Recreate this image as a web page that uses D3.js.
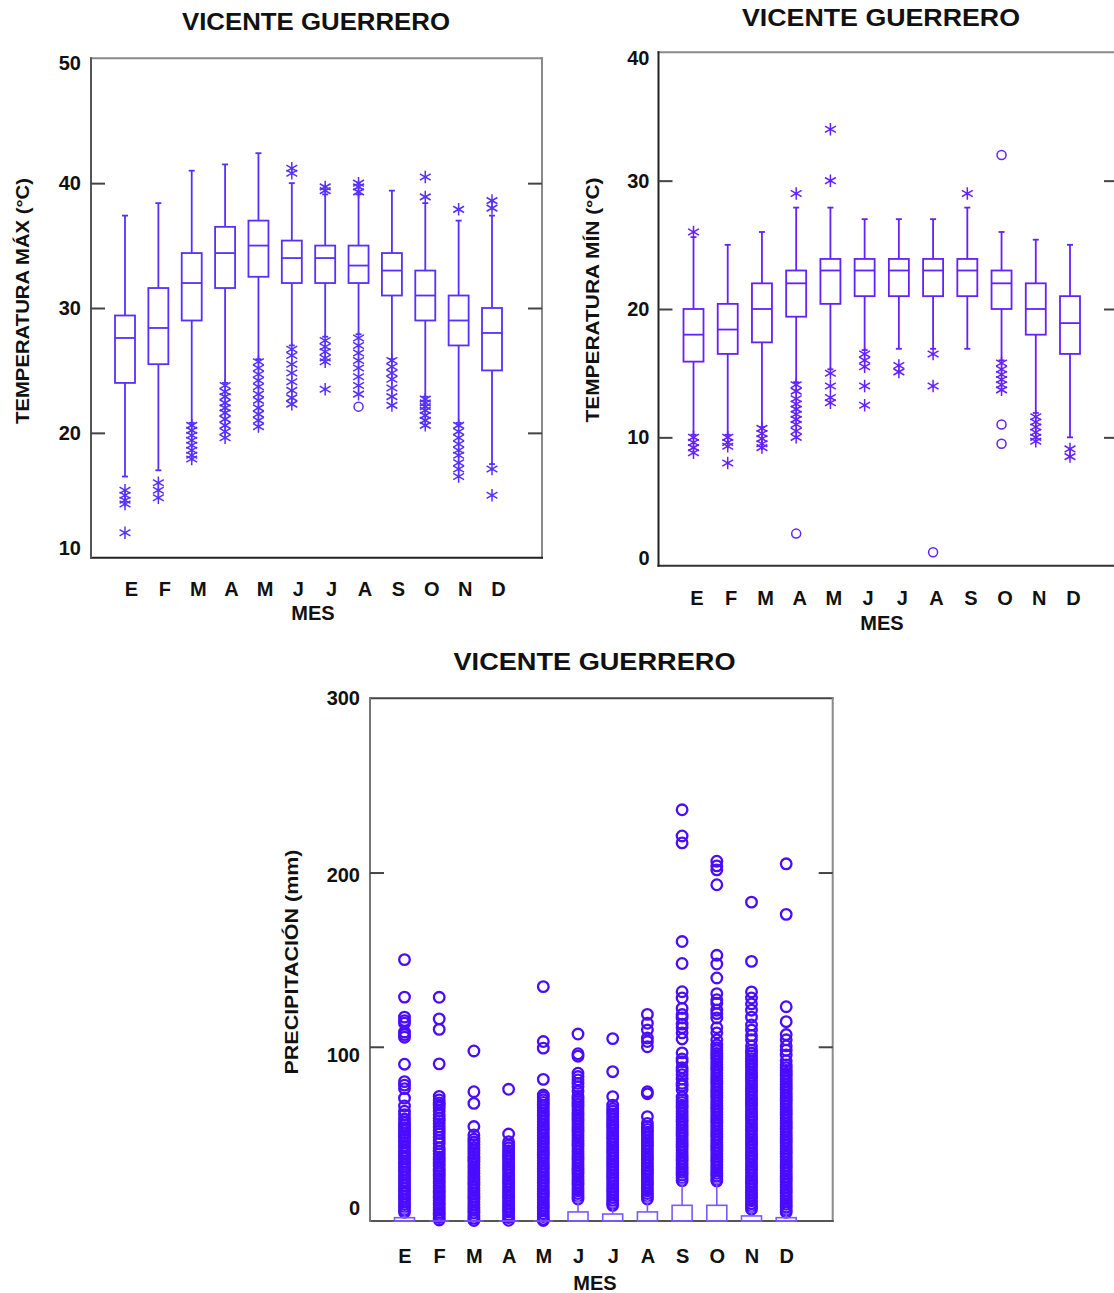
<!DOCTYPE html>
<html>
<head>
<meta charset="utf-8">
<script src="https://cdn.jsdelivr.net/npm/d3@7"></script>
<style>
  body { margin: 0; background: #fff; }
  svg { display: block; }
</style>
</head>
<body>
<svg id="chart" width="1114" height="1293"></svg>
<script>
// Three monthly box plots for the Vicente Guerrero station:
// daily max temperature, daily min temperature and daily precipitation.
// Asterisks are outside values, circles far-outside values (SYSTAT style).

const FONT = '"Liberation Sans", Arial, Helvetica, sans-serif';
const months = ['E', 'F', 'M', 'A', 'M', 'J', 'J', 'A', 'S', 'O', 'N', 'D'];

// temperatura máxima (°C)
const tmaxHigh = [37.4, 38.4, 41.0, 41.5, 42.4, 40.0, 39.1, 39.1, 39.4, 38.4, 37.0, 37.4];
const tmaxQ3 = [29.4, 31.6, 34.4, 36.5, 37.0, 35.4, 35.0, 35.0, 34.4, 33.0, 31.0, 30.0];
const tmaxMed = [27.6, 28.4, 32.0, 34.4, 35.0, 34.0, 34.0, 33.4, 33.0, 31.0, 29.0, 28.0];
const tmaxQ1 = [24.0, 25.5, 29.0, 31.6, 32.5, 32.0, 32.0, 32.0, 31.0, 29.0, 27.0, 25.0];
const tmaxLow = [16.5, 17.0, 20.8, 24.0, 25.9, 27.0, 27.7, 27.9, 25.9, 22.9, 20.8, 17.5];
const tmaxStars = [
    [15.4, 15.0, 14.6, 14.3, 12.0],
    [16.0, 15.4, 14.8],
    [20.6, 20.2, 19.8, 19.4, 19.0, 18.6, 18.2, 17.9],
    [23.8, 23.3, 22.9, 22.4, 22.0, 21.6, 21.1, 20.6, 20.1, 19.6],
    [25.7, 25.2, 24.7, 24.2, 23.7, 23.1, 22.6, 22.0, 21.5, 21.0, 20.5],
    [41.2, 40.8, 26.7, 26.2, 25.5, 24.8, 24.1, 23.4, 22.8, 22.3],
    [39.7, 39.4, 27.4, 26.9, 26.5, 26.0, 25.7, 23.5],
    [40.0, 39.7, 39.3, 27.6, 27.0, 26.4, 25.8, 25.2, 24.5, 23.8, 23.1],
    [25.8, 25.3, 24.8, 24.3, 23.6, 22.9, 22.2],
    [40.5, 38.9, 22.7, 22.4, 22.1, 21.8, 21.4, 21.0, 20.6],
    [37.9, 20.6, 20.1, 19.6, 19.1, 18.6, 18.2, 17.6, 17.1, 16.5],
    [38.6, 38.0, 17.1, 15.0],
];
const tmaxFar = [[], [], [], [], [], [], [], [22.1], [], [], [], []];

// temperatura mínima (°C)
const tminHigh = [25.6, 25.0, 26.0, 27.9, 27.9, 27.0, 27.0, 27.0, 27.9, 26.0, 25.4, 25.0];
const tminQ3 = [20.0, 20.4, 22.0, 23.0, 23.9, 23.9, 23.9, 23.9, 23.9, 23.0, 22.0, 21.0];
const tminMed = [18.0, 18.4, 20.0, 22.0, 23.0, 23.0, 23.0, 23.0, 23.0, 22.0, 20.0, 18.9];
const tminQ1 = [15.9, 16.5, 17.4, 19.4, 20.4, 21.0, 21.0, 21.0, 21.0, 20.0, 18.0, 16.5];
const tminLow = [10.2, 10.2, 10.8, 14.3, 15.3, 16.8, 16.9, 16.9, 16.9, 16.0, 11.9, 10.0];
const tminStars = [
    [26.0, 10.0, 9.6, 9.2, 8.8],
    [10.0, 9.6, 9.3, 8.0],
    [10.7, 10.3, 9.9, 9.5, 9.2],
    [29.0, 14.1, 13.6, 13.0, 12.6, 12.2, 11.8, 11.4, 11.0, 10.5, 10.0],
    [34.0, 30.0, 15.0, 14.0, 13.1, 12.7],
    [16.5, 16.0, 15.5, 14.0, 12.5],
    [15.6, 15.1],
    [16.5, 14.0],
    [29.0],
    [15.8, 15.3, 14.9, 14.5, 14.1, 13.7],
    [11.6, 11.2, 10.8, 10.4, 10.0, 9.7],
    [9.1, 8.5],
];
const tminFar = [[], [], [], [2.5], [], [], [], [1.05], [], [32.0, 11.0, 9.5], [], []];

// precipitación (mm); most days are dry so Q1 and the median sit on zero
const precHigh = [4.7, 0, 0, 0, 0, 11.1, 8.2, 11.1, 21.6, 21.6, 5.4, 4.2];
const precQ3 = [1.9, 0, 0, 0, 0, 5.2, 4.0, 5.2, 9.0, 9.0, 2.9, 1.9];
const precMed = [0, 0, 0, 0, 0, 0, 0, 0, 0, 0, 0, 0];
const precQ1 = [0, 0, 0, 0, 0, 0, 0, 0, 0, 0, 0, 0];
const precLow = [0, 0, 0, 0, 0, 0, 0, 0, 0, 0, 0, 0];
const precOut = [
    [150, 128.5, 117, 115, 113.5, 108.5, 107, 105.5, 90, 80, 78, 76, 70.5, 66, 63, 61, 58.5, 56.5, 55, 53.5, 52, 50.5, 49,
     48.2, 46.6, 45.1, 43.4, 42.0, 40.3, 38.9, 37.2, 35.8, 34.1, 32.7, 31.0, 29.6, 28.1, 26.5, 25.0, 23.4, 21.9, 20.3,
     18.8, 17.2, 15.7, 14.1, 12.6, 11.0, 9.5, 8.0, 6.4, 5.0],
    [128.4, 116, 110, 90.2, 71.5, 69.5, 67.8, 66.5, 65, 63.2, 61, 59, 57.5, 55.8, 54, 52, 50.2, 48, 46.2, 44.5, 42, 40.1,
     38.5, 36.8, 35, 33.2, 31.5, 30, 28.6, 27.2, 25.8, 24.4, 23, 21.6, 20.2, 18.8, 17.4, 16, 14.6, 13.2, 11.8, 10.4, 9,
     7.6, 6.2, 4.8, 3.4, 2, 0.6],
    [97.6, 74.2, 67.5, 54.2, 49.4, 47, 45.3, 43.8, 42.2, 40.5, 38.8, 37, 35.5, 33.8, 32.2, 30.5, 28.8, 27.2, 25.5, 23.9,
     22.2, 20.6, 19, 17.4, 15.8, 14.2, 12.6, 11, 9.4, 7.8, 6.2, 4.6, 3, 1.5, 0.3],
    [75.6, 49.9, 45.5, 43.6, 42, 40.4, 38.8, 37.2, 35.6, 34, 32.4, 30.8, 29.2, 27.6, 26, 24.4, 22.8, 21.2, 19.6, 18, 16.4,
     14.8, 13.2, 11.6, 10, 8.4, 6.8, 5.2, 3.6, 2, 0.4],
    [134.5, 103, 99.2, 81.3, 72.3, 71, 69.5, 68, 66.5, 65, 63.4, 61.8, 60.2, 58.6, 57, 55.4, 53.8, 52.2, 50.6, 49, 47.4,
     45.8, 44.2, 42.6, 41, 39.4, 37.8, 36.2, 34.6, 33, 31.4, 29.8, 28.2, 26.6, 25, 23.4, 21.8, 20.2, 18.6, 17, 15.4, 13.8,
     12.2, 10.6, 9, 7.4, 5.8, 4.2, 2.6, 1, 0.3],
    [107.3, 96, 94.6, 84.8, 82.9, 81, 79, 77.1, 74.5, 71.5, 70, 68.5, 67, 65.4, 63.8, 62.2, 60.6, 59, 57.4, 55.8, 54.2,
     52.6, 51, 49.4, 47.8, 46.2, 44.6, 43, 41.4, 39.8, 38.2, 36.6, 35, 33.4, 31.8, 30.2, 28.6, 27, 25.4, 23.8, 22.2, 20.6,
     19, 17.4, 15.8, 14.2, 12.6],
    [104.7, 85.7, 71.4, 66.5, 64.5, 63, 61.4, 59.8, 58.2, 56.6, 55, 53.4, 51.8, 50.2, 48.6, 47, 45.4, 43.8, 42.2, 40.6,
     39, 37.4, 35.8, 34.2, 32.6, 31, 29.4, 27.8, 26.2, 24.6, 23, 21.4, 19.8, 18.2, 16.6, 15, 13.4, 11.8, 10.2, 9],
    [118.6, 113.5, 109.6, 105, 103, 100, 74.2, 73, 59.9, 56, 54.2, 52.6, 51, 49.4, 47.8, 46.2, 44.6, 43, 41.4, 39.8, 38.2,
     36.6, 35, 33.4, 31.8, 30.2, 28.6, 27, 25.4, 23.8, 22.2, 20.6, 19, 17.4, 15.8, 14.2, 12.6],
    [236, 221, 217, 160.4, 147.8, 131.6, 128, 122, 118.5, 116.5, 113, 111, 108, 104.5, 96.5, 93, 91.5, 88, 86, 84, 81.5,
     79, 77.5, 75.5, 71.2, 69.5, 68, 66.4, 64.8, 63.2, 61.6, 60, 58.4, 56.8, 55.2, 53.6, 52, 50.4, 48.8, 47.2, 45.6, 44,
     42.4, 40.8, 39.2, 37.6, 36, 34.4, 32.8, 31.2, 29.6, 28, 26.4, 24.8, 23.2],
    [206.5, 203.8, 201.5, 193, 152.5, 147.5, 139.5, 130.5, 127, 125, 121, 119, 116.5, 111, 108, 104, 101, 99.4, 97.8,
     96.2, 94.6, 93, 91.4, 89.8, 88.2, 86.6, 85, 83.4, 81.8, 80.2, 78.6, 77, 75.4, 73.8, 72.2, 70.6, 69, 67.4, 65.8, 64.2,
     62.6, 61, 59.4, 57.8, 56.2, 54.6, 53, 51.4, 49.8, 48.2, 46.6, 45, 43.4, 41.8, 40.2, 38.6, 37, 35.4, 33.8, 32.2, 30.6,
     29, 27.4, 25.8, 24.2, 23],
    [183, 149, 131.5, 128, 124.6, 121, 117, 112.5, 109.6, 106.5, 104, 100.5, 98, 96.4, 94.8, 93.2, 91.6, 90, 88.4, 86.8,
     85.2, 83.6, 82, 80.4, 78.8, 77.2, 75.6, 74, 72.4, 70.8, 69.2, 67.6, 66, 64.4, 62.8, 61.2, 59.6, 58, 56.4, 54.8, 53.2,
     51.6, 50, 48.4, 46.8, 45.2, 43.6, 42, 40.4, 38.8, 37.2, 35.6, 34, 32.4, 30.8, 29.2, 27.6, 26, 24.4, 22.8, 21.2, 19.6,
     18, 16.4, 14.8, 13.2, 11.6, 10, 8.4, 6.8],
    [205, 176, 123, 114.4, 107, 104, 100.5, 98, 95.3, 92, 89.6, 88, 86.4, 84.8, 83.2, 81.6, 80, 78.4, 76.8, 75.2, 73.6, 72,
     70.4, 68.8, 67.2, 65.6, 64, 62.4, 60.8, 59.2, 57.6, 56, 54.4, 52.8, 51.2, 49.6, 48, 46.4, 44.8, 43.2, 41.6, 40, 38.4,
     36.8, 35.2, 33.6, 32, 30.4, 28.8, 27.2, 25.6, 24, 22.4, 20.8, 19.2, 17.6, 16, 14.4, 12.8, 11.2, 9.6, 8, 6.4, 5],
];

const svg = d3.select('#chart');

const styleAxisText = (sel, size) => sel
    .attr('font-family', FONT)
    .attr('font-size', size)
    .attr('font-weight', 'bold')
    .attr('color', '#111');

function drawPanel(o) {
    const g = svg.append('g');
    const x = d3.scalePoint().domain(d3.range(months.length)).range([o.x0 + o.padL, o.x1 - o.padR]);
    const y = d3.scaleLinear().domain(o.domain).range([o.yBot, o.yTop]);

    // frame: each side has its own grey in the scan
    const sides = [
        [o.x0, o.yTop, o.x1, o.yTop, o.frame[0]],
        [o.x1, o.yTop, o.x1, o.yBot, o.frame[1]],
        [o.x0, o.yBot, o.x1, o.yBot, o.frame[2]],
        [o.x0, o.yTop, o.x0, o.yBot, o.frame[3]],
    ];
    g.selectAll('line.frame').data(sides).join('line')
        .attr('class', 'frame')
        .attr('x1', (d) => d[0]).attr('y1', (d) => d[1])
        .attr('x2', (d) => d[2]).attr('y2', (d) => d[3])
        .attr('stroke', (d) => d[4]).attr('stroke-width', 2)
        .attr('stroke-linecap', 'square');

    // value labels outside on the left
    const yLab = g.append('g').attr('transform', `translate(${o.x0},0)`)
        .call(d3.axisLeft(y).tickValues(o.ticks).tickSize(0).tickPadding(o.tickPad));
    yLab.select('.domain').remove();
    yLab.selectAll('text').attr('transform', (d) => `translate(0,${o.nudge[d] || 0})`);
    styleAxisText(yLab, 20);

    // short inward ticks on both sides
    const inL = g.append('g').attr('transform', `translate(${o.x0},0)`)
        .call(d3.axisRight(y).tickValues(o.inner).tickSize(14).tickFormat(''));
    const inR = g.append('g').attr('transform', `translate(${o.x1},0)`)
        .call(d3.axisLeft(y).tickValues(o.inner).tickSize(14).tickFormat(''));
    [inL, inR].forEach((a) => {
        a.select('.domain').remove();
        a.selectAll('line').attr('stroke', '#444').attr('stroke-width', 2);
    });

    // month letters
    const xLab = g.append('g').attr('transform', `translate(0,${o.yBot})`)
        .call(d3.axisBottom(x).tickFormat((i) => months[i]).tickSize(0).tickPadding(o.monthPad));
    xLab.select('.domain').remove();
    xLab.selectAll('text').attr('dx', o.monthDx);
    styleAxisText(xLab, 20);

    g.append('text')
        .attr('x', o.mesX).attr('y', o.mesY)
        .attr('text-anchor', 'middle')
        .attr('font-family', FONT).attr('font-size', 20).attr('font-weight', 'bold')
        .attr('fill', '#111')
        .text('MES');

    g.append('text')
        .attr('transform', `translate(${o.yTitleX},${o.yTitleY}) rotate(-90)`)
        .attr('dy', '0.35em')
        .attr('text-anchor', 'middle')
        .attr('font-family', FONT).attr('font-size', 19).attr('font-weight', 'bold')
        .attr('fill', '#111')
        .attr('textLength', o.yTitleLen).attr('lengthAdjust', 'spacingAndGlyphs')
        .text(o.yTitle);

    g.append('text')
        .attr('x', o.titleX).attr('y', o.titleY)
        .attr('text-anchor', 'middle')
        .attr('font-family', FONT).attr('font-size', 24).attr('font-weight', 'bold')
        .attr('fill', '#111')
        .attr('textLength', o.titleLen).attr('lengthAdjust', 'spacingAndGlyphs')
        .text('VICENTE GUERRERO');

    const marks = g.append('g');
    const idx = d3.range(months.length);
    const half = 10;

    const drawPoints = () => {
        const stars = o.stars.flatMap((vals, i) => vals.map((v) => ({ i, v })));
        const far = o.far.flatMap((vals, i) => vals.map((v) => ({ i, v })));
        marks.selectAll('path.star').data(stars).join('path')
            .attr('class', 'star')
            .attr('d', d3.symbol(d3.symbolAsterisk, o.starSize)())
            .attr('transform', (d) => `translate(${x(d.i)},${y(d.v)})`)
            .attr('fill', 'none').attr('stroke', o.color).attr('stroke-width', 1.5);
        marks.selectAll('circle.far').data(far).join('circle')
            .attr('class', 'far')
            .attr('cx', (d) => x(d.i)).attr('cy', (d) => y(d.v)).attr('r', o.circleR)
            .attr('fill', 'none').attr('stroke', o.color).attr('stroke-width', o.circleW);
    };

    const drawBoxes = () => {
        const bc = o.boxColor || o.color;
        // upper whiskers and caps
        const up = idx.filter((i) => o.high[i] > o.q3[i]);
        marks.selectAll('line.wup').data(up).join('line').attr('class', 'wup')
            .attr('x1', (i) => x(i)).attr('x2', (i) => x(i))
            .attr('y1', (i) => y(o.q3[i])).attr('y2', (i) => y(o.high[i]));
        marks.selectAll('line.cup').data(up).join('line').attr('class', 'cup')
            .attr('x1', (i) => x(i) - 3).attr('x2', (i) => x(i) + 3)
            .attr('y1', (i) => y(o.high[i])).attr('y2', (i) => y(o.high[i]));
        const dn = idx.filter((i) => o.low[i] < o.q1[i]);
        marks.selectAll('line.wdn').data(dn).join('line').attr('class', 'wdn')
            .attr('x1', (i) => x(i)).attr('x2', (i) => x(i))
            .attr('y1', (i) => y(o.q1[i])).attr('y2', (i) => y(o.low[i]));
        marks.selectAll('line.cdn').data(dn).join('line').attr('class', 'cdn')
            .attr('x1', (i) => x(i) - 3).attr('x2', (i) => x(i) + 3)
            .attr('y1', (i) => y(o.low[i])).attr('y2', (i) => y(o.low[i]));
        marks.selectAll('rect.box').data(idx).join('rect').attr('class', 'box')
            .attr('x', (i) => x(i) - half).attr('width', half * 2)
            .attr('y', (i) => y(o.q3[i])).attr('height', (i) => y(o.q1[i]) - y(o.q3[i]))
            .attr('fill', 'none');
        marks.selectAll('line.med').data(idx).join('line').attr('class', 'med')
            .attr('x1', (i) => x(i) - half).attr('x2', (i) => x(i) + half)
            .attr('y1', (i) => y(o.med[i])).attr('y2', (i) => y(o.med[i]));
        marks.selectAll('line.wup, line.cup, line.wdn, line.cdn, rect.box, line.med')
            .attr('stroke', bc).attr('stroke-width', o.boxW);
    };

    if (o.pointsFirst) { drawPoints(); drawBoxes(); } else { drawBoxes(); drawPoints(); }
}

drawPanel({
    x0: 91, x1: 542, yTop: 58.3, yBot: 557.7, padL: 34, padR: 50,
    domain: [10, 50], ticks: [10, 20, 30, 40, 50], inner: [20, 30, 40],
    nudge: { 50: 5, 10: -10 }, tickPad: 10,
    monthPad: 24, monthDx: 6, mesX: 313, mesY: 620,
    yTitle: 'TEMPERATURA MÁX (°C)', yTitleX: 22, yTitleY: 301, yTitleLen: 246,
    titleX: 316, titleY: 30, titleLen: 268,
    frame: ['#8a8a8a', '#8a8a8a', '#222', '#555'],
    color: '#5530ff', boxW: 1.8, starSize: 110, circleR: 4.5, circleW: 1.5,
    high: tmaxHigh, q3: tmaxQ3, med: tmaxMed, q1: tmaxQ1, low: tmaxLow,
    stars: tmaxStars, far: tmaxFar,
});

drawPanel({
    x0: 658.5, x1: 1118, yTop: 52.3, yBot: 565.7, padL: 35, padR: 48,
    domain: [0, 40], ticks: [0, 10, 20, 30, 40], inner: [10, 20, 30],
    nudge: { 40: 6, 0: -8 }, tickPad: 9,
    monthPad: 25, monthDx: 3, mesX: 882, mesY: 630,
    yTitle: 'TEMPERATURA MÍN (°C)', yTitleX: 592, yTitleY: 300, yTitleLen: 245,
    titleX: 881, titleY: 26, titleLen: 278,
    frame: ['#8a8a8a', '#8a8a8a', '#333', '#222'],
    color: '#6420ff', boxW: 1.8, starSize: 110, circleR: 4.5, circleW: 1.5,
    high: tminHigh, q3: tminQ3, med: tminMed, q1: tminQ1, low: tminLow,
    stars: tminStars, far: tminFar,
});

drawPanel({
    x0: 370, x1: 832.7, yTop: 698.3, yBot: 1221, padL: 34.5, padR: 46.5,
    domain: [0, 300], ticks: [0, 100, 200, 300], inner: [100, 200],
    nudge: { 200: 3, 100: 8, 0: -13 }, tickPad: 10,
    monthPad: 28, monthDx: 0, mesX: 595, mesY: 1290,
    yTitle: 'PRECIPITACIÓN (mm)', yTitleX: 291, yTitleY: 962, yTitleLen: 225,
    titleX: 594.5, titleY: 670, titleLen: 282,
    frame: ['#444', '#8a8a8a', '#555', '#777'],
    color: '#4a0cff', boxColor: '#7a58ff', boxW: 1.6, starSize: 110, circleR: 5.3, circleW: 2.3,
    high: precHigh, q3: precQ3, med: precMed, q1: precQ1, low: precLow,
    stars: months.map(() => []), far: precOut, pointsFirst: true,
});
</script>
</body>
</html>
